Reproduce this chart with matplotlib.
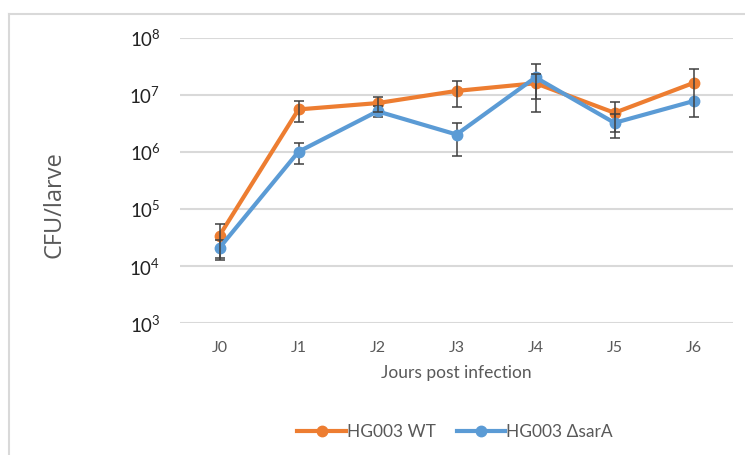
import matplotlib
matplotlib.use("Agg")
import matplotlib.pyplot as plt
from matplotlib.lines import Line2D
import numpy as np

plt.rcParams['font.family'] = ['Lato', 'DejaVu Sans']
plt.rcParams['mathtext.fontset'] = 'custom'
plt.rcParams['mathtext.rm'] = 'Lato'

days = ["J0", "J1", "J2", "J3", "J4", "J5", "J6"]
ytick_exp = [3, 4, 5, 6, 7, 8]

# CFU per larva, mean and error (Excel-style symmetric error)
wt_cfu = [3.4e4, 5.5e6, 7.1e6, 1.16e7, 1.58e7, 4.8e6, 1.6e7]
wt_err = [2.0e4, 2.2e6, 2.1e6, 5.5e6, 7.3e6, 2.6e6, 1.2e7]
sara_cfu = [2.07e4, 1.0e6, 5.1e6, 2.0e6, 2.0e7, 3.2e6, 7.7e6]
sara_err = [8.0e3, 4.0e5, 1.1e6, 1.15e6, 1.5e7, 1.46e6, 4.0e5]

orange = "#ED7D31"
blue = "#5B9BD5"
grid_c = "#d9d9d9"
text_c = "#595959"

fig = plt.figure(figsize=(7.45, 4.55), dpi=100)
ax = fig.add_axes([180 / 745, 1 - 323 / 455, 553 / 745, (323 - 37.5) / 455])

x = np.arange(len(days))
ax.plot(x, wt_cfu, color=orange, lw=3, marker="o", ms=7.5, label="HG003 WT", zorder=3)
ax.plot(x, sara_cfu, color=blue, lw=3, marker="o", ms=7.5, label="HG003 \u0394sarA", zorder=4)
ax.errorbar(x, wt_cfu, yerr=wt_err, fmt="none", ecolor="#404040", elinewidth=1.1,
            capsize=3.5, capthick=1.1, zorder=5)
ax.errorbar(x, sara_cfu, yerr=sara_err, fmt="none", ecolor="#404040", elinewidth=1.1,
            capsize=3.5, capthick=1.1, zorder=3.5)

ax.set_yscale("log")
ax.set_ylim(1e3, 1e8)
ax.set_xlim(-0.5, len(days) - 0.5)
ax.set_yticks([10.0 ** e for e in ytick_exp])
ax.set_yticklabels([f"$10^{{{e}}}$" for e in ytick_exp], fontsize=13.5, color="#222222")
ax.yaxis.set_minor_locator(matplotlib.ticker.NullLocator())
ax.set_xticks(x)
ax.set_xticklabels(days, fontsize=11.5, color=text_c)
ax.tick_params(axis="both", length=0)
ax.tick_params(axis="y", pad=14)
ax.tick_params(axis="x", pad=13)
ax.grid(axis="y", color=grid_c, lw=1.5)
ax.set_axisbelow(True)
for s in ax.spines.values():
    s.set_visible(False)

ax.set_xlabel("Jours post infection", fontsize=12.5, color=text_c, labelpad=7)
fig.text(55 / 745, 1 - 205 / 455, "CFU/larve", rotation=90, fontsize=17,
         color=text_c, ha="center", va="center", family="Open Sans")

fig.legend(loc="center", bbox_to_anchor=(455 / 745, 1 - 432 / 455), ncol=2, frameon=False,
           fontsize=12.5, labelcolor=text_c, handlelength=2.8, handletextpad=0.05,
           columnspacing=1.2)

# chart area border
fig.add_artist(Line2D([9 / 745, 1.0], [1 - 14 / 455] * 2, color=grid_c, lw=1.5,
                      transform=fig.transFigure))
fig.add_artist(Line2D([9 / 745] * 2, [0.0, 1 - 14 / 455], color=grid_c, lw=1.5,
                      transform=fig.transFigure))

fig.savefig("out.png", dpi=100)
